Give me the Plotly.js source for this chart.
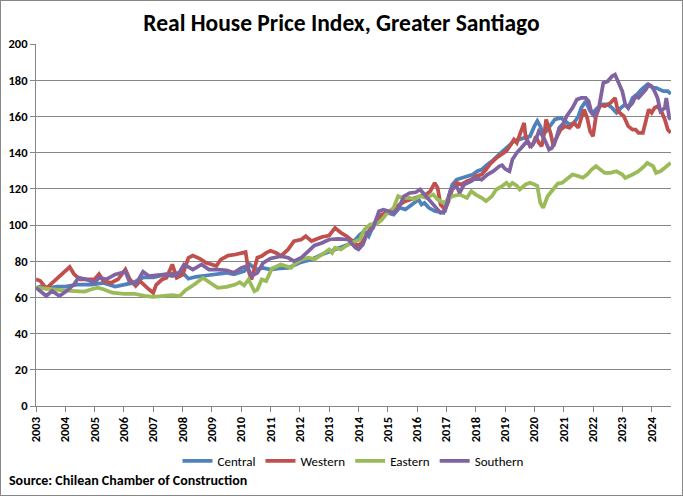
<!DOCTYPE html>
<html>
<head>
<meta charset="utf-8">
<script src="https://cdn.plot.ly/plotly-3.0.1.min.js"></script>
<style>
  html, body { margin: 0; padding: 0; background: #fff; }
  #frame { width: 683px; height: 496px; box-sizing: border-box; border: 1px solid #878787; }
  #chart { width: 681px; height: 494px; }
</style>
</head>
<body>
<div id="frame"><div id="chart"></div></div>
<script>
// Real house price index by zone of Greater Santiago (time in decimal years)
const centralX = [2003.0,2003.15,2003.4,2003.7,2004.0,2004.4,2004.9,2005.3,2005.7,2006.0,2006.3,2006.65,2007.0,2007.5,2008.0,2008.2,2008.45,2008.8,2009.2,2009.5,2009.75,2010.1,2010.3,2010.5,2010.75,2011.0,2011.3,2011.6,2012.05,2012.4,2012.75,2013.05,2013.3,2013.65,2013.9,2014.05,2014.2,2014.35,2014.55,2014.8,2014.95,2015.2,2015.4,2015.6,2015.9,2016.05,2016.15,2016.25,2016.4,2016.6,2016.9,2017.05,2017.2,2017.35,2017.55,2017.7,2017.9,2018.05,2018.2,2018.4,2018.55,2018.8,2019.05,2019.3,2019.45,2019.7,2019.85,2020.0,2020.1,2020.2,2020.3,2020.4,2020.55,2020.7,2020.9,2021.05,2021.2,2021.35,2021.5,2021.6,2021.75,2021.9,2022.0,2022.15,2022.35,2022.5,2022.65,2022.8,2022.95,2023.1,2023.2,2023.35,2023.5,2023.65,2023.85,2023.95,2024.05,2024.15,2024.3,2024.4,2024.55,2024.65];
const centralY = [65,66,65,66,66,67,67,68,66,67,68,71,71,73,73.6,70.3,71.4,72.1,72.7,73.6,72.7,74.5,78.2,75.4,76.3,75.4,76,76.3,79.5,81,83.7,85.5,87.4,89.2,92,94.7,96.6,93.8,101.2,104.9,107,105.8,109.5,108.6,112.2,114.1,111.3,112.2,109.5,107.7,106.7,114.1,122.3,125.1,126,126.9,127.9,129.7,130.6,133.4,135.2,139,142.6,146.3,147.2,148.1,149,154.6,157.4,154.6,150,151.8,155.5,158.3,159.2,157.4,155.5,156.4,160.1,164.7,168.4,163,162,164.7,166.6,166.6,164.7,162,164.7,166.6,164.7,170.2,172.1,174.8,177.6,176.7,175.8,175.8,174.8,173.9,173.9,172.4];

const westernX = [2003.0,2003.15,2003.35,2003.55,2003.75,2004.0,2004.15,2004.3,2004.5,2004.75,2005.0,2005.15,2005.3,2005.55,2005.8,2006.05,2006.2,2006.4,2006.55,2006.85,2007.0,2007.1,2007.3,2007.45,2007.65,2007.8,2008.0,2008.2,2008.35,2008.6,2008.8,2009.0,2009.15,2009.3,2009.55,2009.8,2010.0,2010.15,2010.25,2010.35,2010.55,2010.7,2010.85,2011.0,2011.2,2011.35,2011.6,2011.8,2012.05,2012.2,2012.4,2012.55,2012.75,2013.0,2013.2,2013.4,2013.6,2013.8,2013.95,2014.1,2014.3,2014.45,2014.6,2014.8,2014.95,2015.2,2015.4,2015.6,2015.9,2016.1,2016.3,2016.45,2016.6,2016.7,2016.8,2016.95,2017.05,2017.2,2017.35,2017.5,2017.7,2017.85,2018.0,2018.2,2018.35,2018.5,2018.7,2018.9,2019.05,2019.2,2019.3,2019.4,2019.55,2019.65,2019.7,2019.85,2019.95,2020.05,2020.15,2020.25,2020.35,2020.4,2020.55,2020.65,2020.75,2020.9,2021.05,2021.2,2021.35,2021.5,2021.6,2021.7,2021.8,2021.9,2022.0,2022.1,2022.25,2022.4,2022.6,2022.75,2022.85,2023.05,2023.2,2023.35,2023.45,2023.55,2023.7,2023.8,2023.9,2024.0,2024.1,2024.2,2024.35,2024.45,2024.55,2024.65];
const westernY = [70,69,65,68,71,74.6,76.8,72.8,70,70,70,72.8,69,68,70,75.5,70,66.3,69,64.5,62.5,67,69.9,70.8,78.2,70.8,72.6,81.9,83.1,81.3,79.1,78.2,77.3,80.9,83.1,83.7,84.3,85,74.5,69.9,81.9,82.8,84.6,85.8,84.6,82.8,86.5,91.1,92,93.8,91.1,92,93.4,94.2,98.4,95.7,93.8,91.1,88.7,89.8,95.7,99.3,102.1,105.8,106.5,109.5,111.3,113.2,115,115.9,116.8,118.7,123.3,120.5,111.3,108.6,112.2,119.6,123.3,122.3,124.2,125.1,126.9,127.9,130.6,133.9,137,139.5,141,144.5,147.2,145.4,152.8,156.4,149,143.5,144.5,149,145.4,143.5,151.8,158.3,150.9,143.5,148.1,152.8,154.6,153.7,156.4,153.7,159.2,163.8,159.2,151.8,149,160,166.6,165.6,167.5,170.2,162.9,160.1,154.6,152.7,152.7,150.9,150.9,158.3,163.8,162,164.7,165.6,162,158.3,152.7,150.9];

const easternX = [2003.0,2003.4,2003.85,2004.2,2004.65,2004.9,2005.1,2005.3,2005.6,2006.0,2006.35,2006.7,2007.0,2007.3,2007.65,2007.9,2008.1,2008.4,2008.7,2008.95,2009.2,2009.5,2009.8,2009.95,2010.1,2010.25,2010.45,2010.55,2010.7,2010.85,2011.0,2011.05,2011.35,2011.7,2011.8,2012.05,2012.3,2012.5,2012.75,2013.0,2013.1,2013.2,2013.4,2013.65,2013.9,2014.05,2014.2,2014.4,2014.6,2014.8,2014.95,2015.2,2015.35,2015.5,2015.75,2015.9,2016.1,2016.3,2016.55,2016.7,2016.9,2017.05,2017.2,2017.45,2017.7,2017.85,2018.0,2018.2,2018.35,2018.55,2018.7,2018.9,2019.05,2019.15,2019.25,2019.4,2019.5,2019.7,2019.85,2020.0,2020.1,2020.2,2020.3,2020.45,2020.6,2020.8,2020.95,2021.15,2021.3,2021.5,2021.65,2021.8,2021.95,2022.1,2022.25,2022.4,2022.6,2022.8,2023.0,2023.1,2023.35,2023.55,2023.75,2023.85,2023.95,2024.05,2024.15,2024.3,2024.45,2024.65];
const easternY = [65.4,64.5,64,63.6,63.2,64.5,65.4,64.5,62.6,62,62,60.8,60.3,60.7,61.2,60.7,64,67.1,70.8,68,65.3,65.8,67.1,68.4,66.6,69.9,63.4,64.3,69.9,69,74.5,76,78.2,76.3,78.2,81,81.9,81,83.7,86.5,84.6,87.4,86.5,89.2,91.1,92,97.5,100.3,100.3,103,106,109.5,115.9,115,115,114.1,115.9,115,116.8,114.1,112.2,114.1,115.9,116.8,115,118.7,116.8,115,113.2,115.9,119.6,121.5,123.3,121.5,123.3,121.8,119.6,122.4,123.3,122.4,121.5,112.3,109.5,115.9,118.7,122.9,123.3,126.1,127.9,127,126.1,127.9,130.6,132.5,130.7,128.8,128.8,129.7,127.9,126,127.9,129.7,132.5,134.3,133.4,132.5,128.8,129.7,131.6,134.3];

const southernX = [2003.0,2003.15,2003.35,2003.55,2003.8,2004.05,2004.3,2004.45,2004.7,2005.0,2005.15,2005.4,2005.7,2006.05,2006.2,2006.4,2006.65,2006.85,2007.0,2007.4,2007.65,2007.85,2008.05,2008.35,2008.65,2008.9,2009.2,2009.5,2009.75,2010.0,2010.2,2010.35,2010.55,2010.75,2011.0,2011.2,2011.35,2011.6,2011.8,2012.05,2012.3,2012.5,2012.75,2013.0,2013.3,2013.65,2013.9,2014.0,2014.15,2014.3,2014.5,2014.7,2014.85,2015.0,2015.2,2015.4,2015.55,2015.75,2015.95,2016.1,2016.3,2016.55,2016.8,2016.95,2017.05,2017.15,2017.35,2017.45,2017.6,2017.85,2018.0,2018.2,2018.4,2018.6,2018.8,2018.9,2019.0,2019.15,2019.25,2019.4,2019.55,2019.75,2019.9,2020.05,2020.15,2020.25,2020.35,2020.5,2020.6,2020.75,2020.85,2021.0,2021.1,2021.3,2021.45,2021.6,2021.75,2021.85,2021.95,2022.05,2022.2,2022.35,2022.5,2022.65,2022.75,2022.85,2023.0,2023.1,2023.2,2023.35,2023.45,2023.55,2023.7,2023.8,2023.9,2024.0,2024.1,2024.2,2024.3,2024.38,2024.45,2024.5,2024.6,2024.65];
const southernY = [65.4,63.6,60.8,63.6,60.8,63.6,67.2,70.9,70,68.2,70.9,70,72.7,74.2,68.2,67.2,74.2,71.8,72,72.7,71.8,72.7,78.2,75.4,78.2,75.4,75.4,75,73.6,76.3,77.3,71.8,73.6,79.1,81.5,82.4,82.8,81.9,80,81.9,85.5,88.7,90.1,92,92.3,92,87.4,86.5,89.2,95.7,98.4,107.6,108.5,107.6,106.7,110.4,115.9,117.7,118.1,119.6,115.9,111.3,106.7,107.7,114.1,119.6,121.4,117.7,122.3,124.2,126,125.1,127.9,129.7,132.4,133,131,129.7,136.2,139.9,142.6,146.3,143.5,147.2,151.8,150,147.2,141.7,142.6,148.1,153.7,156.4,160.1,164.7,169.3,170.2,170.2,168.4,162,160.1,164.7,178.5,179.4,182.2,183.1,179.4,173.9,166.6,164.7,167.5,171.2,170.2,173,174.8,177.6,176.7,173.9,170.2,162.9,163.8,164.7,170.2,159.2,158.3];

const seriesNames = ["Central", "Western", "Eastern", "Southern"];
const seriesColors = ["#4F81BD", "#C0504D", "#9BBB59", "#8064A2"];
const yearTicks = [2003,2004,2005,2006,2007,2008,2009,2010,2011,2012,2013,2014,2015,2016,2017,2018,2019,2020,2021,2022,2023,2024];
const yTicks = [0,20,40,60,80,100,120,140,160,180,200];

const xs = [centralX, westernX, easternX, southernX];
const ys = [centralY, westernY, easternY, southernY];

const FONT = "Calibri, Carlito, 'Liberation Sans Narrow', 'Open Sans', sans-serif";

const traces = seriesNames.map((name, i) => ({
  type: "scatter",
  mode: "lines",
  name: name,
  x: xs[i],
  y: ys[i],
  line: { color: seriesColors[i], width: 3.75 },
  hoverinfo: "skip"
}));

const layout = {
  width: 681,
  height: 494,
  margin: { l: 35, r: 11, t: 43, b: 89 },
  paper_bgcolor: "#ffffff",
  plot_bgcolor: "#ffffff",
  font: { family: FONT, size: 12, color: "#000000" },
  title: {
    text: "<b>Real House Price Index, Greater Santiago</b>",
    font: { family: FONT, size: 23.5, color: "#000000" },
    x: 0.5, xanchor: "center",
    y: 1 - 22 / 494, yref: "container", yanchor: "middle"
  },
  xaxis: {
    range: [2003, 2024.66],
    tickmode: "array",
    tickvals: yearTicks,
    ticktext: yearTicks.map(v => "<b>" + v + "</b>"),
    tickangle: -90,
    ticks: "outside",
    ticklen: 5,
    tickcolor: "#868686",
    showline: true,
    linecolor: "#868686",
    linewidth: 1,
    showgrid: false,
    zeroline: false,
    tickfont: { family: FONT, size: 12.5, color: "#000000" },
    fixedrange: true
  },
  yaxis: {
    range: [0, 200],
    tickmode: "array",
    tickvals: yTicks,
    ticktext: yTicks.map(v => "<b>" + v + "</b>"),
    ticks: "outside",
    ticklen: 5,
    tickcolor: "#868686",
    showline: true,
    linecolor: "#868686",
    linewidth: 1,
    showgrid: true,
    gridcolor: "#868686",
    gridwidth: 1,
    zeroline: false,
    tickfont: { family: FONT, size: 12.5, color: "#000000" },
    fixedrange: true
  },
  showlegend: true,
  legend: {
    orientation: "h",
    x: 0.5, xanchor: "center",
    y: -0.152, yanchor: "middle",
    font: { family: FONT, size: 13, color: "#000000" },
    itemwidth: 30,
    bgcolor: "rgba(0,0,0,0)"
  },
  annotations: [{
    text: "<b>Source: Chilean Chamber of Construction</b>",
    xref: "paper", yref: "paper",
    x: -0.045, xanchor: "left",
    y: -0.207, yanchor: "middle",
    showarrow: false,
    font: { family: FONT, size: 14, color: "#000000" }
  }],
  hovermode: false
};

Plotly.newPlot("chart", traces, layout, { staticPlot: true, displayModeBar: false });
</script>
</body>
</html>
